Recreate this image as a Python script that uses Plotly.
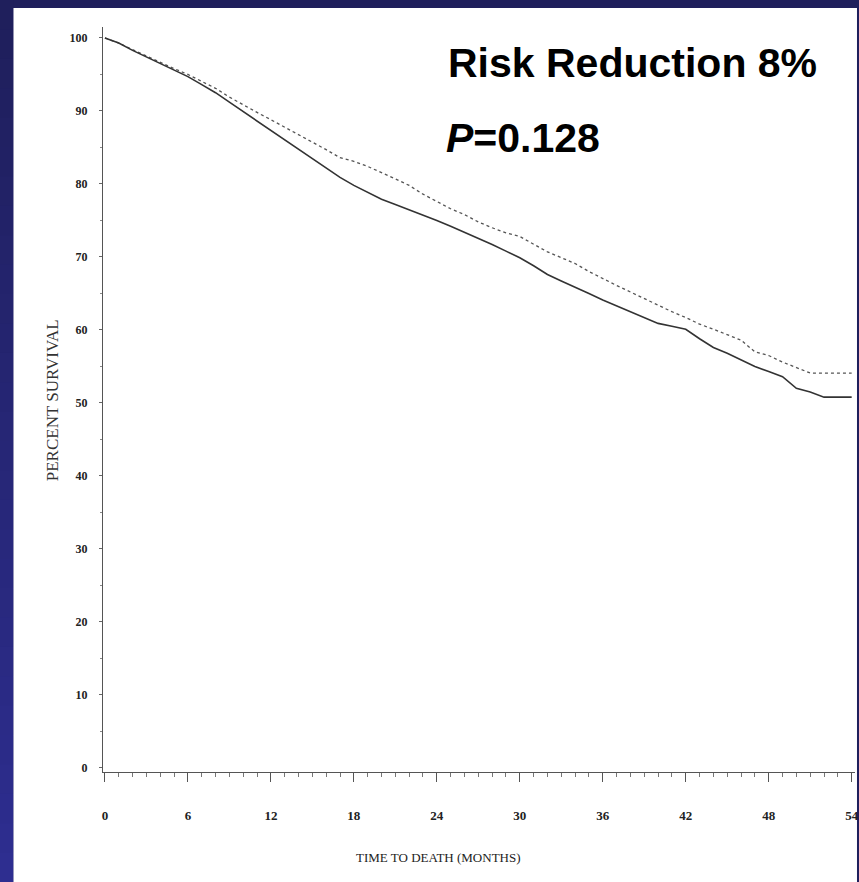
import plotly.graph_objects as go

months = list(range(0, 55))
solid_vals = [100, 99.3, 98.3, 97.4, 96.5, 95.6, 94.7, 93.6, 92.5, 91.2,
              89.9, 88.7, 87.3, 86.0, 84.7, 83.4, 82.2, 80.9, 79.8, 78.8,
              77.9, 77.2, 76.5, 75.8, 75.0, 74.2, 73.4, 72.5, 71.7, 70.8,
              69.9, 68.8, 67.6, 66.7, 65.9, 65.0, 64.1, 63.3, 62.4, 61.6,
              60.9, 60.5, 60.1, 58.8, 57.6, 56.8, 55.9, 55.0, 54.3, 53.6,
              52.0, 51.5, 50.8, 50.8, 50.8]
dotted_vals = [100, 99.3, 98.4, 97.5, 96.7, 95.8, 95.0, 94.1, 93.1, 91.9,
               90.8, 89.8, 88.8, 87.8, 86.7, 85.8, 84.7, 83.6, 83.1, 82.4,
               81.6, 80.7, 79.8, 78.6, 77.6, 76.6, 75.8, 74.8, 74.0, 73.3,
               72.8, 71.7, 70.7, 69.9, 69.1, 68.0, 67.0, 66.1, 65.2, 64.3,
               63.3, 62.5, 61.7, 60.8, 60.1, 59.3, 58.6, 57.0, 56.5, 55.6,
               54.8, 54.1, 54.1, 54.1, 54.1]
x_ticks = [0, 6, 12, 18, 24, 30, 36, 42, 48, 54]
x_tick_labels = ["0", "6", "12", "18", "24", "30", "36", "42", "48", "54"]
y_ticks = [0, 10, 20, 30, 40, 50, 60, 70, 80, 90, 100]
y_tick_labels = [str(v) for v in y_ticks]

W, H = 859, 882
L, R, T, B = 103, 0, 27, 110
pw, ph = W - L - R, H - T - B

def px_x(p):
    return (p - L) / pw

def px_y(p):
    return (H - B - p) / ph

fig = go.Figure()
fig.add_trace(go.Scatter(x=months, y=dotted_vals, mode="lines",
                         line=dict(color="#555555", width=1.3, dash="dot"),
                         showlegend=False, hoverinfo="skip"))
fig.add_trace(go.Scatter(x=months, y=solid_vals, mode="lines",
                         line=dict(color="#333333", width=1.6),
                         showlegend=False, hoverinfo="skip"))

shapes = []
n = 30
for i in range(n):
    t = i / (n - 1)
    r = int(0x1f + (0x2e - 0x1f) * t)
    g = int(0x1f + (0x2e - 0x1f) * t)
    b = int(0x5c + (0x90 - 0x5c) * t)
    shapes.append(dict(type="rect", xref="paper", yref="paper", layer="below",
                       x0=px_x(-2), x1=px_x(13),
                       y0=px_y(H * (i + 1) / n + 1), y1=px_y(H * i / n),
                       fillcolor=f"rgb({r},{g},{b})", line=dict(width=0)))
shapes.append(dict(type="rect", xref="paper", yref="paper", layer="below",
                   x0=px_x(13), x1=px_x(W + 2), y0=px_y(H + 2), y1=px_y(8),
                   fillcolor="white", line=dict(width=0)))

fig.update_layout(
    width=W, height=H,
    margin=dict(l=L, r=R, t=T, b=B),
    paper_bgcolor="#1f1f5c",
    plot_bgcolor="rgba(0,0,0,0)",
    shapes=shapes,
    xaxis=dict(range=[-0.14, 54.24], tickmode="array", tickvals=x_ticks,
               ticktext=x_tick_labels, showgrid=False, zeroline=False,
               showline=True, linecolor="#555555", linewidth=1,
               ticks="outside", ticklen=9, tickcolor="#555555", tickwidth=1,
               ticklabelstandoff=22, ticklabeloverflow="allow",
               minor=dict(dtick=1, ticks="outside", ticklen=4, tickcolor="#777777"),
               tickfont=dict(family="Liberation Serif", size=13, color="#222222", weight="bold")),
    yaxis=dict(range=[-0.55, 101.5], tickmode="array", tickvals=y_ticks,
               ticktext=y_tick_labels, showgrid=False, zeroline=False,
               showline=True, linecolor="#555555", linewidth=1,
               ticks="outside", ticklen=3, tickcolor="#666666",
               ticklabelstandoff=9,
               minor=dict(dtick=5, ticks="outside", ticklen=2, tickcolor="#888888"),
               tickfont=dict(family="Liberation Serif", size=12, color="#222222", weight="bold")),
    annotations=[
        dict(text="<b>Risk Reduction 8%</b>", xref="paper", yref="paper",
             x=px_x(448), y=px_y(63), xanchor="left", yanchor="middle",
             showarrow=False,
             font=dict(family="Liberation Sans", size=41, color="black")),
        dict(text="<b><i>P</i>=0.128</b>", xref="paper", yref="paper",
             x=px_x(446), y=px_y(138), xanchor="left", yanchor="middle",
             showarrow=False,
             font=dict(family="Liberation Sans", size=41, color="black")),
        dict(text="TIME TO DEATH (MONTHS)", xref="paper", yref="paper",
             x=px_x(440), y=px_y(857), xanchor="center", yanchor="middle",
             showarrow=False,
             font=dict(family="Liberation Serif", size=13, color="#222222")),
        dict(text="PERCENT SURVIVAL", xref="paper", yref="paper",
             x=px_x(52), y=px_y(400), xanchor="center", yanchor="middle",
             textangle=-90, showarrow=False,
             font=dict(family="Liberation Serif", size=17, color="#333333")),
    ],
)

fig.write_html("out.html", config={"displayModeBar": False},
               post_script="document.body.style.margin='0px';")
